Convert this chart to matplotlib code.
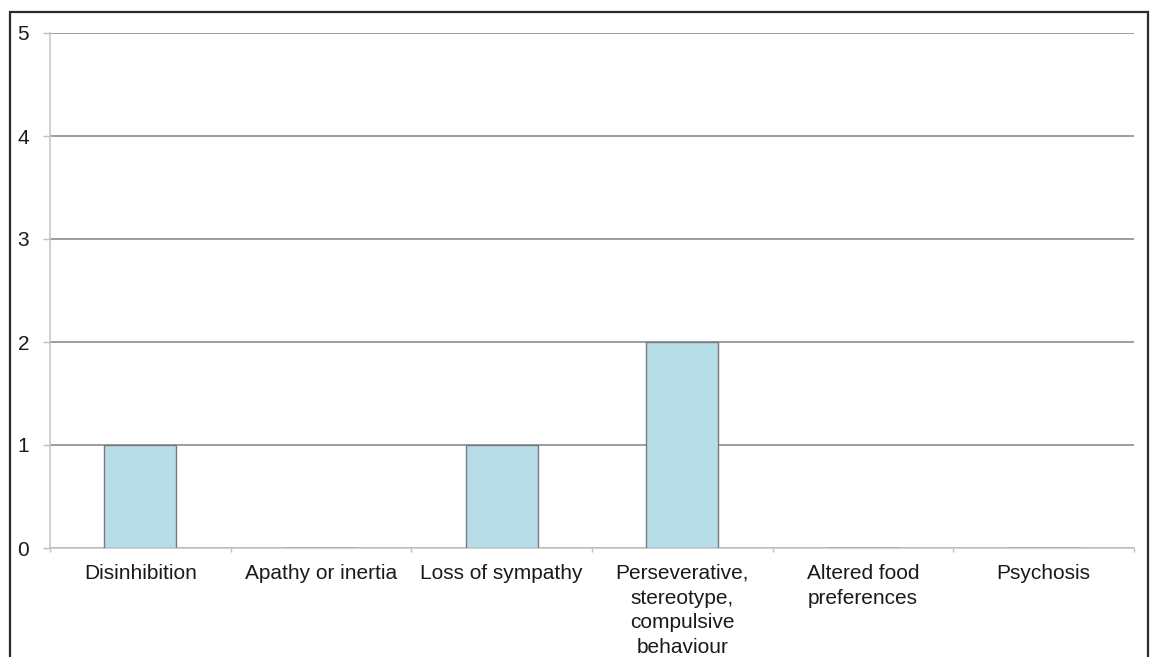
import matplotlib
matplotlib.use("Agg")
import matplotlib.pyplot as plt
from matplotlib.patches import Rectangle
from matplotlib.ticker import FixedLocator
import numpy as np

categories = [
    "Disinhibition",
    "Apathy or inertia",
    "Loss of sympathy",
    "Perseverative,\nstereotype,\ncompulsive\nbehaviour",
    "Altered food\npreferences",
    "Psychosis",
]
counts = [1, 0, 1, 2, 0, 0]
y_ticks = [0, 1, 2, 3, 4, 5]

plt.rcParams["font.family"] = ["Liberation Sans", "DejaVu Sans"]

W, H = 1152, 657
fig = plt.figure(figsize=(W / 100, H / 100), dpi=100)
fig.patch.set_facecolor("white")

# outer frame around the chart (bottom edge runs off the canvas)
frame = Rectangle((10 / W, -0.05), (1148 - 10) / W, (H - 12) / H + 0.05,
                  transform=fig.transFigure, fill=False,
                  edgecolor="#2b2b2b", linewidth=1.6, zorder=10)
fig.add_artist(frame)

ax = fig.add_axes([50 / W, (H - 548) / H, (1134 - 50) / W, (548 - 33) / H])

x = np.arange(len(categories))
ax.bar(x, counts, width=0.4, color="#B7DDE8", edgecolor="#7a7a7a",
       linewidth=1.0, zorder=3)

ax.set_xlim(-0.5, len(categories) - 0.5)
ax.set_ylim(0, 5)
ax.set_yticks(y_ticks)
ax.set_yticklabels([str(v) for v in y_ticks], fontsize=15, color="#1a1a1a")
ax.yaxis.grid(True, color="#8c8c8c", linewidth=1.2, zorder=0)
ax.set_axisbelow(True)

ax.set_xticks(x)
ax.set_xticklabels(categories, fontsize=15, color="#1a1a1a", linespacing=1.38,
                   va="top")
ax.xaxis.set_minor_locator(FixedLocator(np.arange(len(categories) + 1) - 0.5))
ax.tick_params(axis="x", which="major", length=0, pad=11.5)
ax.tick_params(axis="x", which="minor", length=3, color="#bfbfbf", width=1)
ax.tick_params(axis="y", which="major", length=5, color="#bfbfbf", width=1,
               pad=10)

for side in ("top", "right"):
    ax.spines[side].set_visible(False)
for side in ("left", "bottom"):
    ax.spines[side].set_color("#c4c4c4")
    ax.spines[side].set_linewidth(1.1)

fig.savefig("out.png", dpi=100, facecolor="white")
